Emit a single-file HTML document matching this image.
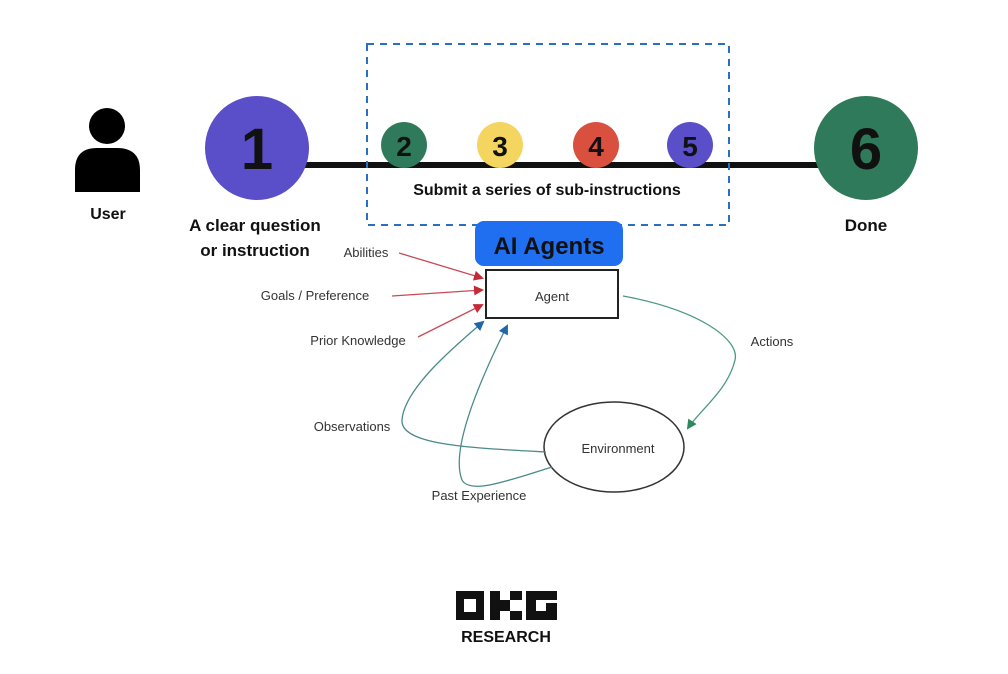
<!DOCTYPE html>
<html><head><meta charset="utf-8"><style>
html,body{margin:0;padding:0;background:#fff;}
svg{display:block}
.b{font-family:"Liberation Sans",sans-serif;font-weight:bold;fill:#111}
.h{font-family:"Liberation Sans",sans-serif;fill:#333;font-size:13px}
</style></head><body>
<svg width="1008" height="674" viewBox="0 0 1008 674">
<defs>
<marker id="r" markerWidth="10" markerHeight="10" refX="8" refY="5" orient="auto" markerUnits="userSpaceOnUse"><path d="M0,0 L10,5 L0,10 z" fill="#c62a35"/></marker>
<marker id="bl" markerWidth="10" markerHeight="10" refX="8" refY="5" orient="auto" markerUnits="userSpaceOnUse"><path d="M0,0 L10,5 L0,10 z" fill="#2266aa"/></marker>
<marker id="g" markerWidth="10" markerHeight="10" refX="8" refY="5" orient="auto" markerUnits="userSpaceOnUse"><path d="M0,0 L10,5 L0,10 z" fill="#2e8a5e"/></marker>
</defs>
<!-- user -->
<circle cx="107" cy="126" r="18" fill="#000"/>
<path d="M75,192 L75,170 Q75,148 97,148 L117,148 Q140,148 140,170 L140,192 Z" fill="#000"/>
<text x="108" y="219" class="b" font-size="16" text-anchor="middle">User</text>
<!-- line -->
<rect x="300" y="162" width="525" height="6" fill="#111"/>
<!-- dashed -->
<rect x="367" y="44" width="362" height="181" fill="none" stroke="#2a6fc0" stroke-width="2" stroke-dasharray="7,6"/>
<circle cx="257" cy="148" r="52" fill="#5a4fc8"/>
<text x="257" y="169" class="b" font-size="58" text-anchor="middle">1</text>
<circle cx="866" cy="148" r="52" fill="#2f7a5a"/>
<text x="866" y="169" class="b" font-size="58" text-anchor="middle">6</text>
<circle cx="404" cy="145" r="23" fill="#2f7a5a"/><text x="404" y="156" class="b" font-size="28" text-anchor="middle">2</text>
<circle cx="500" cy="145" r="23" fill="#f3d560"/><text x="500" y="156" class="b" font-size="28" text-anchor="middle">3</text>
<circle cx="596" cy="145" r="23" fill="#d9503f"/><text x="596" y="156" class="b" font-size="28" text-anchor="middle">4</text>
<circle cx="690" cy="145" r="23" fill="#5a4fc8"/><text x="690" y="156" class="b" font-size="28" text-anchor="middle">5</text>
<text x="547" y="195" class="b" font-size="16" text-anchor="middle">Submit a series of sub-instructions</text>
<text x="255" y="231" class="b" font-size="17" text-anchor="middle">A clear  question</text>
<text x="255" y="256" class="b" font-size="17" text-anchor="middle">or instruction</text>
<text x="866" y="231" class="b" font-size="17" text-anchor="middle">Done</text>
<!-- AI agents -->
<rect x="475" y="221" width="148" height="45" rx="9" fill="#1f6ff0"/>
<text x="549" y="254" class="b" font-size="24" text-anchor="middle">AI Agents</text>
<rect x="486" y="270" width="132" height="48" fill="#fff" stroke="#222" stroke-width="2"/>
<text x="552" y="301" class="h" font-size="17" fill="#111" text-anchor="middle">Agent</text>
<ellipse cx="614" cy="447" rx="70" ry="45" fill="#fff" stroke="#333" stroke-width="1.5"/>
<text x="618" y="453" class="h" font-size="17" fill="#111" text-anchor="middle">Environment</text>
<!-- red arrows -->
<path d="M399,253 L482,278" stroke="#c84a55" stroke-width="1.3" fill="none" marker-end="url(#r)"/>
<path d="M392,296 L482,290" stroke="#c84a55" stroke-width="1.3" fill="none" marker-end="url(#r)"/>
<path d="M418,337 L482,305" stroke="#c84a55" stroke-width="1.3" fill="none" marker-end="url(#r)"/>
<text x="366" y="257" class="h" text-anchor="middle">Abilities</text>
<text x="315" y="300" class="h" text-anchor="middle">Goals / Preference</text>
<text x="358" y="345" class="h" text-anchor="middle">Prior Knowledge</text>
<!-- blue arrows -->
<path d="M546,452 C470,448 400,445 402,420 C404,390 450,350 483,322" stroke="#4a8a8a" stroke-width="1.3" fill="none" marker-end="url(#bl)"/>
<path d="M552,467 C510,480 470,495 462,480 C450,450 480,380 507,326" stroke="#4a8a8a" stroke-width="1.3" fill="none" marker-end="url(#bl)"/>
<text x="352" y="431" class="h" text-anchor="middle">Observations</text>
<text x="479" y="500" class="h" text-anchor="middle">Past Experience</text>
<!-- green -->
<path d="M623,296 C700,310 740,340 735,360 C728,390 700,410 688,428" stroke="#4a9a80" stroke-width="1.3" fill="none" marker-end="url(#g)"/>
<text x="772" y="346" class="h" text-anchor="middle">Actions</text>
<!-- logo -->
<g fill="#111">
<rect x="456" y="591" width="28" height="29"/><rect x="464" y="599" width="12" height="13" fill="#fff"/>
<rect x="490" y="591" width="10" height="29"/><rect x="500" y="600" width="10" height="11"/><rect x="510" y="591" width="12" height="9"/><rect x="510" y="611" width="12" height="9"/>
<rect x="526" y="591" width="31" height="9"/><rect x="526" y="591" width="10" height="29"/><rect x="526" y="611" width="31" height="9"/><rect x="546" y="603" width="11" height="17"/>
</g>
<text x="506" y="642" class="b" font-size="16" text-anchor="middle">RESEARCH</text>
</svg>
</body></html>
